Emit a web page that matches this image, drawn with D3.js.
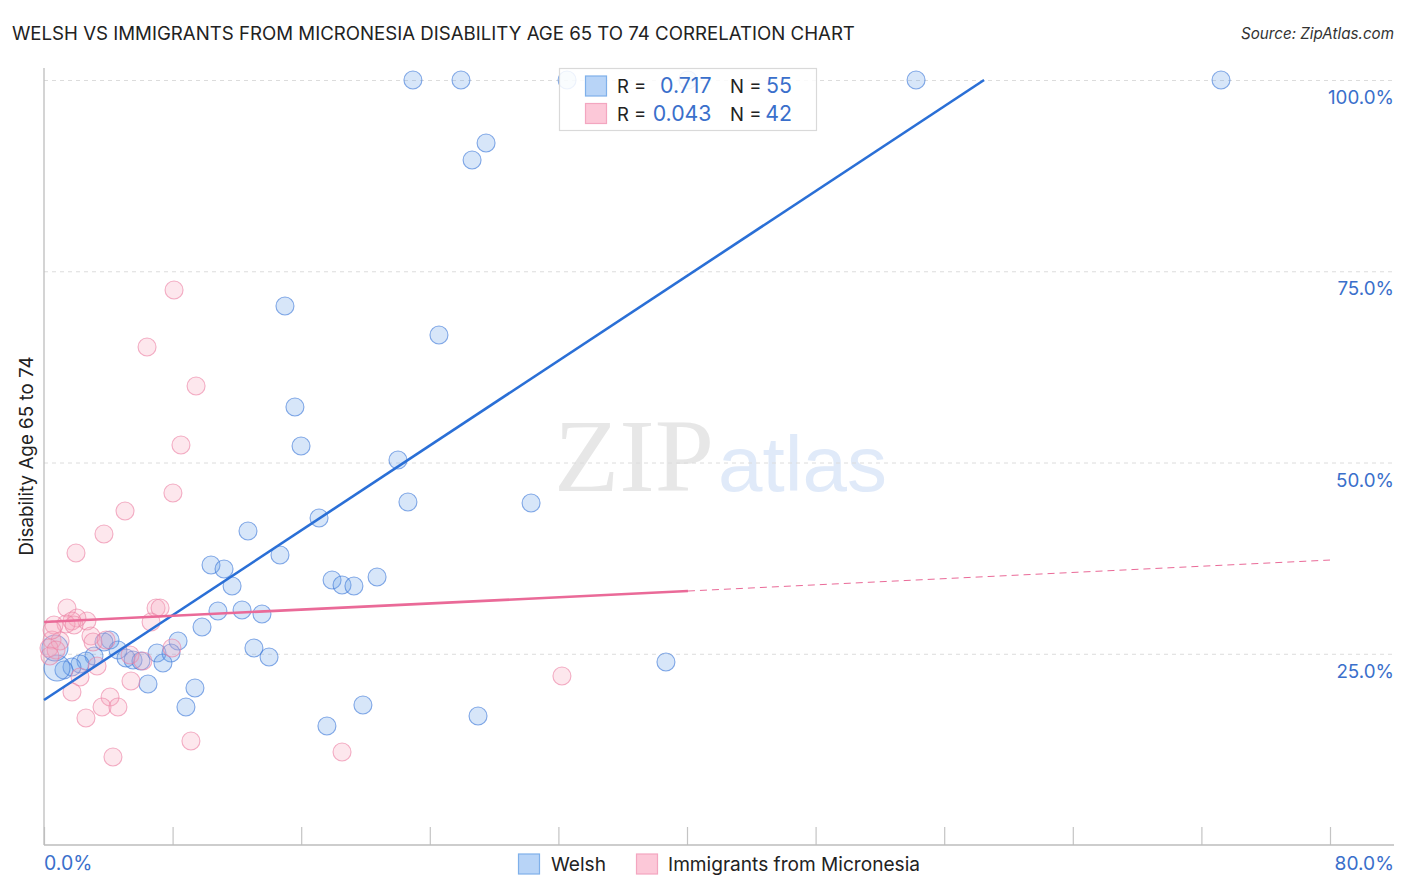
<!DOCTYPE html>
<html>
<head>
<meta charset="utf-8">
<script src="https://cdn.jsdelivr.net/npm/d3@7/dist/d3.min.js"></script>
<style>
  html, body { margin: 0; padding: 0; background: #fff; }
  svg { display: block; font-family: Inter, "Open Sans", sans-serif; }
</style>
</head>
<body>
<svg id="chart" width="1406" height="892"></svg>
<script>
// values, percent
const welshX = [22.95,25.94,32.54,40.06,54.25,73.22,27.50,26.63,14.99,24.57,15.61,15.99,22.02,22.64,30.30,17.11,12.69,14.68,10.39,11.20,11.70,17.92,18.54,19.28,20.72,10.82,12.32,13.56,9.83,8.34,4.11,3.73,4.60,3.11,5.10,5.54,6.03,7.03,7.90,7.40,2.61,2.24,1.74,1.24,0.81,0.68,6.47,9.39,8.83,13.06,14.00,19.84,17.60,27.00,38.69];
const welshY = [100,100,100,100,100,100,91.76,89.54,70.46,66.67,57.25,52.16,50.33,44.84,44.71,42.75,41.05,37.91,36.60,36.08,33.86,34.64,33.99,33.86,35.03,30.59,30.72,30.20,28.50,26.67,26.80,26.54,25.49,24.71,24.44,24.18,24.05,25.10,25.10,23.79,24.05,23.66,23.27,22.88,23.14,25.75,21.05,20.52,18.04,25.75,24.58,18.30,15.56,16.86,23.92];
const welshR = [9,9,9,9,9,9,9,9,9,9,9,9,9,9,9,9,9,9,9,9,9,9,9,9,9,9,9,9,9,9,9,9,9,9,9,9,9,9,9,9,9,9,9,9,13,13,9,9,9,9,9,9,9,9,9];

const micronesiaX = [8.09,6.41,9.46,8.52,8.02,5.04,3.73,1.99,1.43,6.97,7.22,6.66,2.67,2.05,1.74,1.37,0.62,2.92,3.05,3.86,0.50,1.00,0.31,0.75,7.96,5.35,6.15,5.41,2.24,3.30,1.74,4.11,3.61,4.60,2.61,9.14,4.29,18.54,32.22,0.37,0.50,1.87];
const micronesiaY = [72.55,65.10,60.00,52.29,46.01,43.66,40.65,38.17,30.98,30.98,30.98,29.15,29.28,29.67,29.28,28.89,28.76,27.32,26.54,26.80,26.80,26.67,25.75,25.49,25.75,24.84,24.05,21.44,21.96,23.40,20.00,19.35,18.04,18.04,16.60,13.59,11.50,12.16,22.09,24.71,28.10,28.75];

const welshLineX = [0, 58.48];
const welshLineY = [18.95, 100];
const micronesiaLineX = [0, 40.06];
const micronesiaLineY = [29.15, 33.2];
const micronesiaDashX = [40.06, 80];
const micronesiaDashY = [33.2, 37.25];

const xTicks = [0,8,16,24,32,40,48,56,64,72,80];
const yTicks = [25,50,75,100];
const yTickLabels = ["25.0%","50.0%","75.0%","100.0%"];
const legendNames = ["Welsh","Immigrants from Micronesia"];
const legendR = ["0.717","0.043"];
const legendN = ["55","42"];

const blue = "#3b78d8", blueFill = "#6ea6ea", pink = "#ec7fa3", pinkFill = "#f7a8c0";
const labelBlue = "#3a6fcb", textDark = "#222";

const x = d3.scaleLinear().domain([0, 80]).range([44, 1330]);
const y = d3.scaleLinear().domain([0, 100]).range([845, 80]);

const svg = d3.select("#chart");

// watermark
svg.append("text").attr("x", 554).attr("y", 491)
  .attr("font-family", "'Liberation Serif', serif").attr("font-size", 104)
  .attr("textLength", 160).attr("lengthAdjust", "spacingAndGlyphs")
  .attr("fill", "#e7e7e7").text("ZIP");
svg.append("text").attr("x", 718).attr("y", 491)
  .attr("font-family", "'Liberation Sans', sans-serif").attr("font-size", 78)
  .attr("textLength", 169).attr("lengthAdjust", "spacingAndGlyphs")
  .attr("fill", "#e0eaf9").text("atlas");

// y gridlines
const yAxis = svg.append("g")
  .attr("transform", "translate(44,0)")
  .call(d3.axisLeft(y).tickValues(yTicks).tickSize(-1349).tickFormat(""));
yAxis.select(".domain").remove();
yAxis.selectAll("line").attr("stroke", "#dcdcdc").attr("stroke-dasharray", "4,4");

// axes lines
const xAxis = svg.append("g")
  .attr("transform", "translate(0,845)")
  .call(d3.axisBottom(x).tickValues(xTicks).tickSize(-18).tickFormat(""));
xAxis.select(".domain").remove();
xAxis.selectAll("line").attr("stroke", "#c4c4c4").attr("stroke-width", 1.2);
svg.append("line").attr("x1", 44).attr("x2", 1394).attr("y1", 845).attr("y2", 845)
  .attr("stroke", "#bdbdbd").attr("stroke-width", 1.3);
svg.append("line").attr("x1", 44).attr("x2", 44).attr("y1", 68).attr("y2", 845)
  .attr("stroke", "#bdbdbd").attr("stroke-width", 1.3);

// points
function drawPoints(xs, ys, rs, fill, stroke) {
  svg.append("g").selectAll("circle")
    .data(xs.map((v, i) => ({ x: v, y: ys[i], r: rs ? rs[i] : 9 })))
    .enter()
    .append("circle")
    .attr("cx", d => x(d.x))
    .attr("cy", d => y(d.y))
    .attr("r", d => d.r)
    .attr("fill", fill).attr("fill-opacity", 0.28)
    .attr("stroke", stroke).attr("stroke-opacity", 0.62).attr("stroke-width", 1.1);
}
drawPoints(welshX, welshY, welshR, blueFill, blue);
drawPoints(micronesiaX, micronesiaY, null, pinkFill, pink);

// trend lines
const line = d3.line().x(d => x(d[0])).y(d => y(d[1]));
svg.append("path").attr("d", line(d3.zip(welshLineX, welshLineY)))
  .attr("fill", "none").attr("stroke", "#2a6fd6").attr("stroke-width", 2.6);
svg.append("path").attr("d", line(d3.zip(micronesiaLineX, micronesiaLineY)))
  .attr("fill", "none").attr("stroke", "#ea6a98").attr("stroke-width", 2.6);
svg.append("path").attr("d", line(d3.zip(micronesiaDashX, micronesiaDashY)))
  .attr("fill", "none").attr("stroke", "#ea6a98").attr("stroke-width", 1).attr("stroke-dasharray", "7,5");

// title, source
svg.append("text").attr("x", 12).attr("y", 39.5).attr("font-size", 18.65).attr("fill", textDark)
  .text("WELSH VS IMMIGRANTS FROM MICRONESIA DISABILITY AGE 65 TO 74 CORRELATION CHART");
svg.append("text").attr("x", 1394).attr("y", 38.5).attr("text-anchor", "end")
  .attr("font-size", 15.2).attr("font-style", "italic").attr("fill", "#333")
  .text("Source: ZipAtlas.com");

// axis labels
svg.append("text").attr("transform", "translate(33,456) rotate(-90)")
  .attr("text-anchor", "middle").attr("font-size", 18.8).attr("fill", textDark)
  .text("Disability Age 65 to 74");
svg.append("g").selectAll("text").data(yTicks).enter().append("text")
  .attr("x", 1394).attr("y", d => y(d) + 24)
  .attr("text-anchor", "end").attr("font-size", 18.8).attr("fill", labelBlue)
  .text((d, i) => yTickLabels[i]);
svg.append("text").attr("x", 44).attr("y", 870).attr("font-size", 19.5).attr("fill", labelBlue).text("0.0%");
svg.append("text").attr("x", 1394).attr("y", 870).attr("text-anchor", "end").attr("font-size", 19.2).attr("fill", labelBlue).text("80.0%");

// stats legend
svg.append("rect").attr("x", 559.5).attr("y", 68.5).attr("width", 257).attr("height", 62)
  .attr("fill", "#fff").attr("fill-opacity", 0.85).attr("stroke", "#d9d9d9").attr("stroke-width", 1.2);
[0, 1].forEach(i => {
  const rowY = 86 + i * 27.5;
  svg.append("rect").attr("x", 585.5).attr("y", rowY - 10).attr("width", 21).attr("height", 20)
    .attr("fill", i ? "#fcc8d8" : "#b8d4f7").attr("stroke", i ? "#f3a6c0" : "#7fb0ea").attr("stroke-width", 1.2);
  svg.append("text").attr("x", 617).attr("y", rowY + 7).attr("font-size", 18.5).attr("fill", textDark).text("R =");
  svg.append("text").attr("x", 711.5).attr("y", rowY + 7).attr("text-anchor", "end").attr("font-size", 21.3).attr("fill", labelBlue).text(legendR[i]);
  svg.append("text").attr("x", 730).attr("y", rowY + 7).attr("font-size", 18.5).attr("fill", textDark).text("N =");
  svg.append("text").attr("x", 792).attr("y", rowY + 7).attr("text-anchor", "end").attr("font-size", 21.3).attr("fill", labelBlue).text(legendN[i]);
});

// bottom legend
[[518.5, 551], [636.5, 668]].forEach(([bx, tx], i) => {
  svg.append("rect").attr("x", bx).attr("y", 854).attr("width", 21).attr("height", 20)
    .attr("fill", i ? "#fcc8d8" : "#b8d4f7").attr("stroke", i ? "#f3a6c0" : "#7fb0ea").attr("stroke-width", 1.2);
  svg.append("text").attr("x", tx).attr("y", 871).attr("font-size", 19.1).attr("fill", textDark).text(legendNames[i]);
});
</script>
</body>
</html>
